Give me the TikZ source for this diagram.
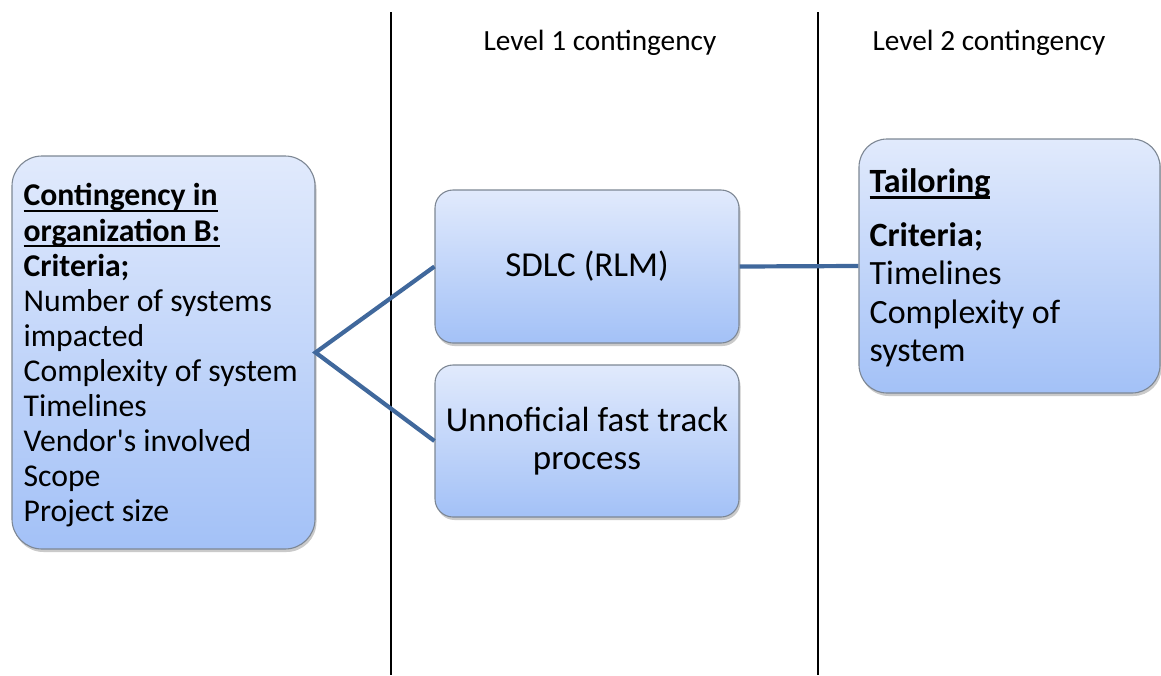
\documentclass[tikz,border=0pt]{standalone}
\usepackage{fontspec}
\setmainfont{Carlito}[Ligatures=TeXOff]
\usetikzlibrary{shadows}

\definecolor{boxtop}{RGB}{225,234,252}
\definecolor{boxbottom}{RGB}{163,193,247}
\definecolor{boxline}{RGB}{125,135,148}
\definecolor{linkblue}{RGB}{64,104,156}

% underline at a fixed depth below the baseline
\newsavebox\ulinebox
\newcommand\ulined[1]{\sbox\ulinebox{#1}\rlap{\rule[-6pt]{\wd\ulinebox}{2.4pt}}\usebox\ulinebox}

\tikzset{
  panel/.style={draw=boxline, line width=1.1pt, top color=boxtop, bottom color=boxbottom,
    drop shadow={shadow xshift=1.5pt, shadow yshift=-3pt, opacity=.35, fill=black!60},
    inner sep=0pt},
  panelnote/.style={anchor=west, align=left, inner sep=0pt},
  divider/.style={draw=black, line width=1.4pt},
  link/.style={draw=linkblue, line width=4.2pt, line join=miter},
  heading/.style={font=\fontsize{29.3}{34}\selectfont}
}

\begin{document}
\begin{tikzpicture}[x=1pt,y=-1pt]
\useasboundingbox (0,0) rectangle (1161,675);

% column dividers
\coordinate (d1top) at (391,12);
\coordinate (d1bot) at (391,675);
\coordinate (d2top) at (818,12);
\coordinate (d2bot) at (818,675);
\draw[divider] (d1top) -- (d1bot);
\draw[divider] (d2top) -- (d2bot);

% column headings
\node[heading] (h1) at (600,43) {Level 1 contingency};
\node[heading] (h2) at (989,43) {Level 2 contingency};

% organization box
\node[panel, rounded corners=30pt, minimum width=303pt, minimum height=393pt] (org) at (163.5,352.5) {};
\node[panelnote, font=\fontsize{31.7}{35.1}\selectfont] (orgtext) at ([xshift=12pt,yshift=-3pt]org.west)
  {\textbf{\ulined{Contingency in}}\\
   \textbf{\ulined{organization B:}}\\
   \textbf{Criteria;}\\
   Number of systems\\
   impacted\\
   Complexity of system\\
   Timelines\\
   Vendor's involved\\
   Scope\\
   Project size};

% level 1 boxes
\node[panel, rounded corners=18pt, minimum width=304pt, minimum height=153pt,
      align=center, font=\fontsize{35}{38}\selectfont] (sdlc) at (587,266.5)
  {SDLC (RLM)};

\node[panel, rounded corners=18pt, minimum width=304pt, minimum height=152pt,
      align=center, font=\fontsize{35}{38}\selectfont] (fast) at (587,441)
  {Unnoficial fast track\\process};

% level 2 box
\node[panel, rounded corners=28pt, minimum width=301pt, minimum height=254pt] (tail) at (1009.5,266) {};
\node[panelnote, font=\fontsize{34}{38.5}\selectfont] (tailtext) at ([xshift=11pt,yshift=-2pt]tail.west)
  {\textbf{\ulined{Tailoring}}\\[15pt]
   \textbf{Criteria;}\\
   Timelines\\
   Complexity of\\
   system};

% connectors
\draw[link] (sdlc.west) -- (org.east) -- (fast.west);
\draw[link] (sdlc.east) -- (tail.west);
\end{tikzpicture}
\end{document}
